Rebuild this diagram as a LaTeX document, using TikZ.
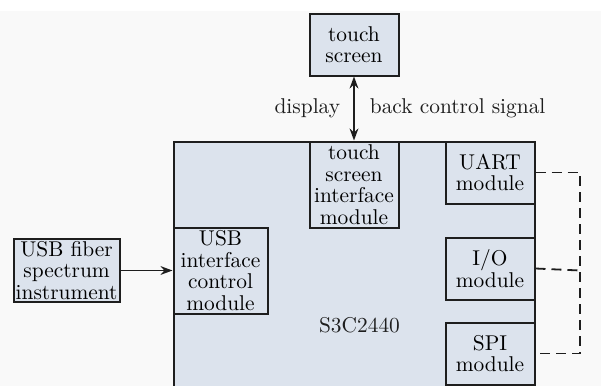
\documentclass[tikz,border=0pt]{standalone}
\usepackage{tikz}
\usetikzlibrary{arrows.meta, positioning}
\definecolor{chipbg}{HTML}{DCE3ED}
\definecolor{pagebg}{HTML}{F9F9F9}
\definecolor{edge}{HTML}{1E1E1E}
\tikzset{
    box/.style={rectangle, draw=edge, fill=chipbg, line width=1pt, align=center,
                font=\fontsize{10.7}{10.8}\selectfont, inner sep=1pt},
    modbox/.style={box, minimum width=44.5pt, minimum height=31pt},
    lbl/.style={font=\fontsize{10.7}{10.8}\selectfont, inner sep=0pt, text=edge},
    arr/.style={-{Stealth[length=6pt, width=4.4pt]}, line width=0.9pt, color=edge},
    dblarr/.style={arr, {Stealth[length=6pt, width=4.4pt]}-{Stealth[length=6pt, width=4.4pt]}},
    busline/.style={dash pattern=on 5pt off 3pt, line width=0.9pt, color=edge},
}

\begin{document}
\begin{tikzpicture}[x=0.5pt, y=-0.5pt]

  \useasboundingbox (0,0) rectangle (601,386);
  \clip (0,0) rectangle (601,386);
  \fill[white] (0,0) rectangle (601,386);
  \fill[pagebg] (0,11) rectangle (601,386);

  \node[box, minimum width=180.5pt, minimum height=129pt] (mcu) at (354,270.5) {};
  \node[lbl] (chip) at (359.5,325) {S3C2440};

  \node[modbox, minimum height=43pt, anchor=north] (tsi) at (mcu.north)
       {touch\\screen\\interface\\module};
  \node[modbox, above=32pt of tsi] (tsc) {touch\\screen};

  \node[modbox, anchor=north east] (uart) at (mcu.north east) {UART\\module};
  \node[modbox, below=16pt of uart] (io) {I/O\\module};
  \node[modbox, below=10.5pt of io] (spi) {SPI\\module};

  \node[modbox, minimum width=47pt, minimum height=43pt, anchor=west] (usbi) at (mcu.west)
       {USB\\interface\\control\\module};
  \node[modbox, minimum width=52.75pt, left=26pt of usbi] (usbf)
       {USB fiber\\spectrum\\instrument};

  \draw[arr] (usbf) -- (usbi);
  \draw[dblarr] (tsc) -- (tsi)
       node[lbl, midway, left=6.5pt] {display}
       node[lbl, midway, right=7.5pt] {back control signal};

  \coordinate (bus) at (580,270.5);
  \draw[busline] (uart.east) -| (bus) |- (spi.east);
  \draw[busline] (io.east) -- (bus);

\end{tikzpicture}
\end{document}
